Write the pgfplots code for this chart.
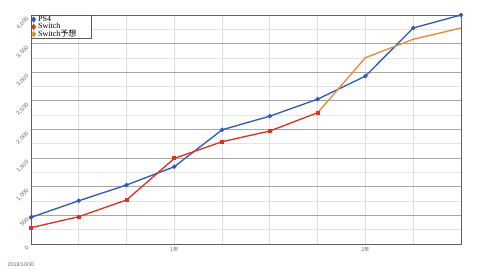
\documentclass[border=0pt]{standalone}
\usepackage{fontspec}
\setmainfont{Liberation Serif}
\newfontfamily\sans{Liberation Sans}
\newfontfamily\cjk{Noto Sans CJK JP}
\usepackage{pgfplots}
\pgfplotsset{compat=1.18}
\definecolor{psblue}{HTML}{2E5BB8}
\definecolor{swred}{HTML}{D93322}
\definecolor{swor}{HTML}{E8893A}
\begin{document}
\begin{tikzpicture}
\useasboundingbox (-23.25pt,-19.5pt) rectangle (336.75pt,183pt);
\begin{axis}[
  scale only axis,
  width=322.5pt, height=171.75pt,
  xmin=0, xmax=9, ymin=0, ymax=4000,
  xtick={0,...,9},
  xticklabels={,,,{\cjk 1年},,,,{\cjk 2年},,},
  xticklabel style={font=\fontsize{4}{5}\selectfont, text=gray!80!black, yshift=1pt},
  ytick={0,500,...,4000},
  minor ytick={250,750,...,3750},
  yticklabel style={font=\sans\fontsize{4.3}{5}\selectfont, text=gray!80!black, rotate=45, anchor=east},
  /pgf/number format/.cd, 1000 sep={,}, assume math mode=true, /pgfplots/.cd,
  major tick length=0pt, minor tick length=0pt,
  xmajorgrids, ymajorgrids, yminorgrids,
  x grid style={gray!25, line width=0.6pt},
  y grid style={gray!70, line width=0.6pt},
  minor y grid style={gray!20, line width=0.5pt},
  axis line style={gray!75!black, line width=0.6pt},
  legend style={at={(0,1)}, anchor=north west,
    font=\fontsize{6}{6}\selectfont,
    nodes={inner xsep=2.2pt, inner ysep=0pt, text height=4.2pt, text depth=1pt},
    draw=gray!70!black, line width=0.4pt, inner sep=0.6pt, row sep=0.3pt, text width=37pt,
    cells={anchor=west}},
  legend cell align=left,
]
\addplot[psblue, line width=1pt, mark=*, mark size=1.1pt,
  legend image code/.code={\draw[psblue, mark=diamond*, mark size=1.6pt] plot coordinates {(0.2cm,0cm)};}]
  coordinates {(0,465) (1,755) (2,1030) (3,1350) (4,1995) (5,2233) (6,2530) (7,2933) (8,3773) (9,4000)};
\addlegendentry{PS4}
\addplot[swred, line width=1pt, mark=square*, mark size=1pt,
  legend image code/.code={\draw[swred, mark=diamond*, mark size=1.6pt] plot coordinates {(0.2cm,0cm)};}]
  coordinates {(0,285) (1,477) (2,769) (3,1495) (4,1787) (5,1974) (6,2294)};
\addlegendentry{Switch}
\addplot[swor, line width=1pt, mark=none,
  legend image code/.code={\draw[swor, mark=diamond*, mark size=1.6pt] plot coordinates {(0.2cm,0cm)};}]
  coordinates {(6,2294) (7,3255) (8,3576) (9,3773)};
\addlegendentry{Switch{\cjk 予想}}
\end{axis}
\node[anchor=west, font=\sans\fontsize{4}{5}\selectfont, text=gray!80!black] at (-21pt,-15.5pt) {2018/10/30};
\end{tikzpicture}
\end{document}
